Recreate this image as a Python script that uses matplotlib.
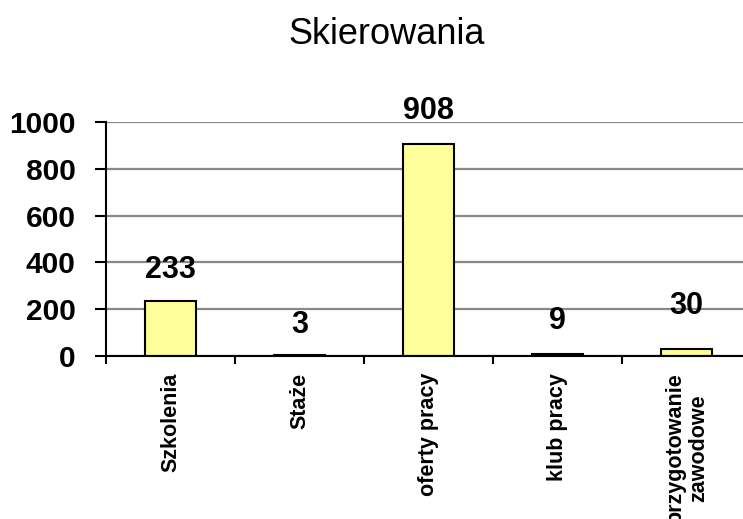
import matplotlib
matplotlib.use("Agg")
import matplotlib.pyplot as plt
import numpy as np

title = "Skierowania"
categories = ["Szkolenia", "Staże", "oferty pracy", "klub pracy", "przygotowanie\nzawodowe"]
values = [233, 3, 908, 9, 30]
yticks = [0, 200, 400, 600, 800, 1000]
label_offsets_px = [31, 30, 33, 33, 43]

plt.rcParams['font.family'] = ['Liberation Sans', 'DejaVu Sans']

fig = plt.figure(figsize=(7.43, 5.19), dpi=100)
W, H = 743, 519
left, right, bottom, top = 106, 751, 356, 122
ax = fig.add_axes([left / W, 1 - bottom / H, (right - left) / W, (bottom - top) / H])

x = np.arange(len(categories))
ax.bar(x, values, width=0.4, color="#FFFF99", edgecolor="black", linewidth=1.5, zorder=3)

ax.set_xlim(-0.5, len(categories) - 0.5)
ax.set_ylim(0, 1000)
ax.set_yticks(yticks)
ax.set_yticklabels([str(v) for v in yticks], fontsize=21.5, fontweight="bold")
ax.yaxis.grid(True, color="#888888", linewidth=1.6, zorder=0)
ax.set_axisbelow(True)

for s in ["top", "right"]:
    ax.spines[s].set_visible(False)
for s in ["left", "bottom"]:
    ax.spines[s].set_linewidth(1.5)
    ax.spines[s].set_zorder(4)

ax.tick_params(axis="y", length=8, width=1.5, pad=14)
# category ticks between categories
ax.set_xticks(np.arange(len(categories) + 1) - 0.5)
ax.set_xticklabels([])
ax.tick_params(axis="x", length=6, width=1.5)
ax.set_xticks(x, minor=True)
ax.set_xticklabels(categories, minor=True, rotation=90, fontsize=15.5, fontweight="bold",
                   va="top", ha="center", multialignment="center", linespacing=1.15)
ax.tick_params(axis="x", which="minor", length=0, pad=12)

for xi, v, off in zip(x, values, label_offsets_px):
    ax.annotate(str(v), (xi, v), xytext=(0, off * 0.72), textcoords="offset points",
                ha="center", va="center", fontsize=22, fontweight="bold", zorder=5)

fig.text(0.52, 1 - 34 / H, title, ha="center", va="center", fontsize=26)

fig.savefig("out.png", dpi=100)
